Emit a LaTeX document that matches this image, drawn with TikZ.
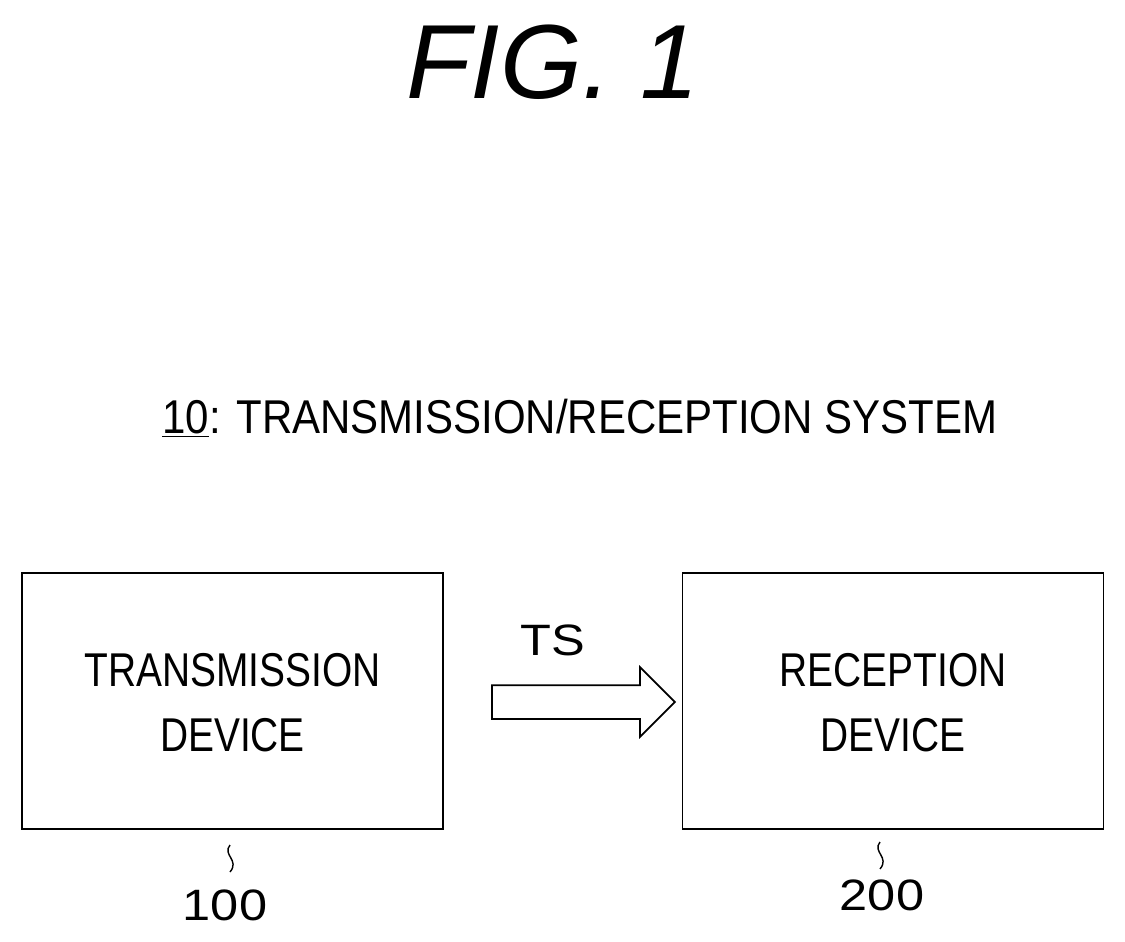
\documentclass[tikz,border=0pt]{standalone}
\usepackage{fontspec}
\setmainfont{Liberation Sans}
\usetikzlibrary{shapes.arrows}
\tikzset{
  blk/.style={draw, line width=1pt, minimum width=8.42cm, minimum height=5.12cm, inner sep=0pt},
  lbl/.style={font=\fontsize{27}{37}\selectfont, align=center, xscale=0.82},
  refn/.style={font=\fontsize{25}{26}\selectfont, xscale=1.15}
}
\begin{document}
\begin{tikzpicture}[x=0.02cm,y=-0.02cm]
\useasboundingbox (0,0) rectangle (1125,942);
\node[font=\fontsize{60}{64}\selectfont\itshape] (fig) at (553,62) {FIG. 1};
\node[lbl, xscale=1.08, anchor=west] (sys) at (157,418) {\underline{10}: TRANSMISSION/RECEPTION SYSTEM};
\node[blk] (tx) at (232.5,701) {};
\node[blk] (rx) at (893,701) {};
\node[lbl] (txt) at (232.5,703) {TRANSMISSION\\DEVICE};
\node[lbl] (rxt) at (893,703) {RECEPTION\\DEVICE};
\node[draw, line width=1pt, single arrow, inner xsep=0pt, inner ysep=0.32cm,
      single arrow head extend=0.36cm, minimum height=3.66cm] (ts) at (575,702) {};
\node[refn] (tsl) at (553,640) {TS};
\coordinate (s1) at (230,845);
\coordinate (s2) at (880,842);
\draw[line width=0.8pt] (s1) .. controls (222,855) and (240,860) .. (230,872);
\draw[line width=0.8pt] (s2) .. controls (872,852) and (890,857) .. (880,869);
\node[refn] (n100) at (225,905) {100};
\node[refn] (n200) at (882,895) {200};
\end{tikzpicture}
\end{document}
